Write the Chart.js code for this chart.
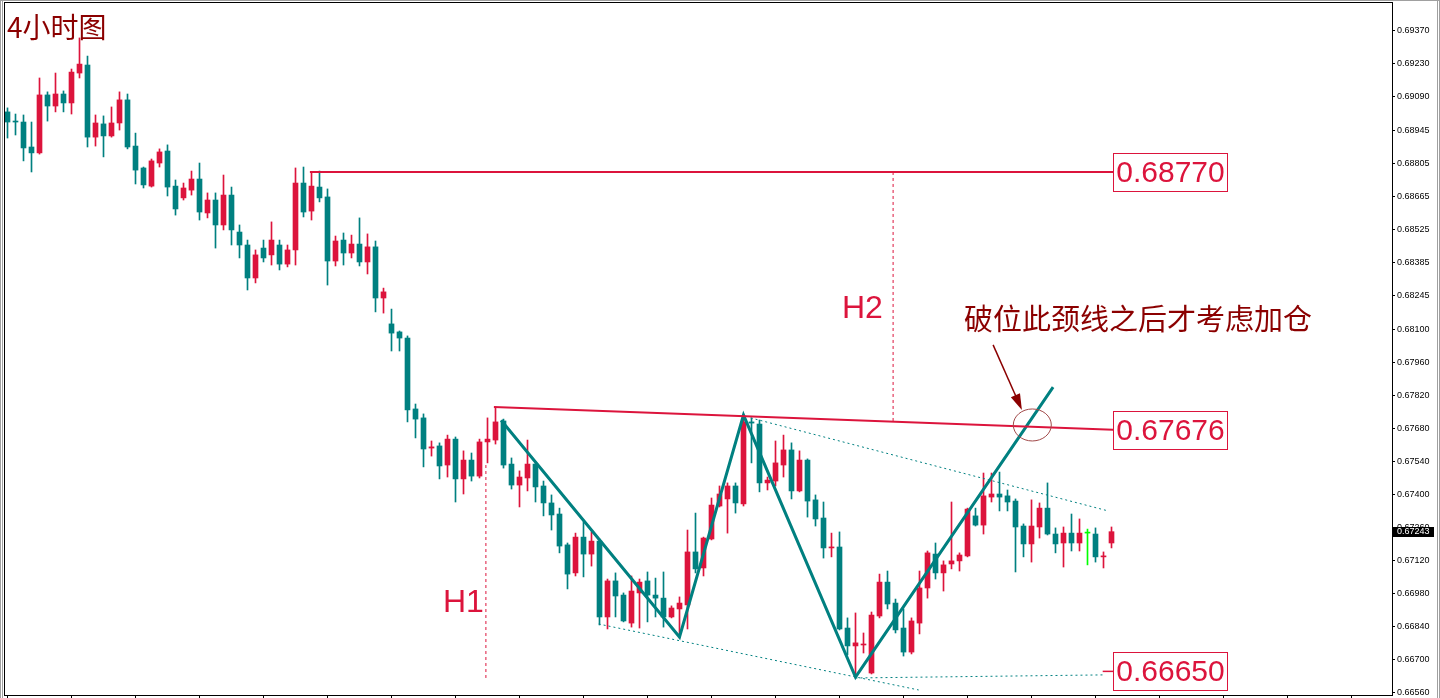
<!DOCTYPE html>
<html>
<head>
<meta charset="utf-8">
<script src="https://cdn.jsdelivr.net/npm/chart.js@4.4.1/dist/chart.umd.min.js"></script>
<style>
  html, body { margin: 0; padding: 0; background: #fff; overflow: hidden; }
</style>
</head>
<body>
<canvas id="c" width="1440" height="698"></canvas>
<script>
// 4H candles (oldest first)
const opens = [0.69025,0.68986,0.68982,0.68876,0.68851,0.69097,0.69050,0.69101,0.69063,0.69190,
0.69224,0.68918,0.68974,0.68923,0.68978,0.69076,0.68880,0.68787,0.68710,0.68808,
0.68859,0.68710,0.68660,0.68693,0.68740,0.68596,0.68651,0.68545,0.68672,0.68515,
0.68460,0.68320,0.68447,0.68418,0.68460,0.68379,0.68439,0.68723,0.68604,0.68706,
0.68664,0.68392,0.68481,0.68426,0.68464,0.68388,0.68452,0.68235,0.68125,0.68091,
0.68065,0.67764,0.67726,0.67598,0.67607,0.67526,0.67636,0.67467,0.67547,0.67479,
0.67624,0.67632,0.67713,0.67530,0.67441,0.67471,0.67530,0.67437,0.67365,0.67318,
0.67187,0.67068,0.67220,0.67148,0.67203,0.66881,0.67034,0.66974,0.66855,0.66983,
0.67034,0.66974,0.66961,0.66881,0.66915,0.66932,0.67157,0.67089,0.67212,0.67352,
0.67382,0.67437,0.67361,0.67709,0.67700,0.67450,0.67458,0.67526,0.67590,0.67416,
0.67547,0.67378,0.67301,0.67174,0.67178,0.66834,0.66758,0.66762,0.66643,0.66885,
0.67029,0.66940,0.66834,0.66732,0.66855,0.67004,0.67148,0.67068,0.67106,0.67119,
0.67140,0.67310,0.67271,0.67390,0.67403,0.67395,0.67373,0.67267,0.67191,0.67263,
0.67343,0.67233,0.67195,0.67237,0.67195,0.67237,0.67233,0.67136,0.67195];
const highs = [0.69042,0.69016,0.69012,0.68982,0.69169,0.69110,0.69190,0.69114,0.69207,0.69339,
0.69262,0.69012,0.69008,0.69046,0.69110,0.69101,0.68935,0.68791,0.68825,0.68868,
0.68885,0.68736,0.68723,0.68774,0.68808,0.68681,0.68681,0.68757,0.68706,0.68545,
0.68481,0.68439,0.68481,0.68558,0.68481,0.68460,0.68787,0.68791,0.68770,0.68774,
0.68698,0.68498,0.68511,0.68502,0.68575,0.68507,0.68477,0.68277,0.68188,0.68095,
0.68074,0.67785,0.67743,0.67628,0.67620,0.67653,0.67645,0.67586,0.67577,0.67636,
0.67726,0.67772,0.67721,0.67556,0.67501,0.67632,0.67539,0.67458,0.67399,0.67343,
0.67195,0.67237,0.67284,0.67242,0.67212,0.67042,0.67068,0.66983,0.67055,0.67042,
0.67072,0.67046,0.67072,0.66928,0.66966,0.67250,0.67322,0.67220,0.67386,0.67437,
0.67450,0.67450,0.67738,0.67726,0.67717,0.67475,0.67628,0.67653,0.67620,0.67586,
0.67552,0.67399,0.67369,0.67237,0.67242,0.66877,0.66898,0.66813,0.66902,0.67063,
0.67076,0.66957,0.66915,0.66877,0.67076,0.67161,0.67195,0.67119,0.67369,0.67153,
0.67343,0.67343,0.67492,0.67492,0.67496,0.67420,0.67382,0.67276,0.67378,0.67365,
0.67450,0.67259,0.67263,0.67318,0.67297,0.67254,0.67259,0.67157,0.67263];
const lows = [0.68914,0.68927,0.68817,0.68770,0.68846,0.68986,0.69025,0.69025,0.69016,0.69169,
0.68876,0.68880,0.68834,0.68918,0.68948,0.68868,0.68719,0.68702,0.68706,0.68791,
0.68668,0.68587,0.68651,0.68672,0.68566,0.68575,0.68447,0.68524,0.68460,0.68405,
0.68269,0.68299,0.68388,0.68375,0.68354,0.68367,0.68375,0.68579,0.68566,0.68643,
0.68290,0.68371,0.68375,0.68405,0.68371,0.68337,0.68176,0.68171,0.68010,0.68010,
0.67709,0.67641,0.67518,0.67564,0.67467,0.67475,0.67369,0.67403,0.67458,0.67471,
0.67535,0.67615,0.67513,0.67424,0.67348,0.67416,0.67369,0.67310,0.67250,0.67153,
0.67000,0.67055,0.67051,0.67097,0.66847,0.66830,0.66881,0.66860,0.66838,0.66834,
0.66860,0.66881,0.66838,0.66877,0.66792,0.66830,0.67068,0.67055,0.67208,0.67348,
0.67237,0.67322,0.67352,0.67535,0.67412,0.67420,0.67437,0.67475,0.67382,0.67412,
0.67305,0.67267,0.67131,0.67136,0.66826,0.66720,0.66626,0.66728,0.66639,0.66877,
0.66915,0.66813,0.66715,0.66724,0.66809,0.66961,0.67042,0.66991,0.67085,0.67076,
0.67136,0.67267,0.67233,0.67369,0.67331,0.67331,0.67072,0.67136,0.67114,0.67216,
0.67229,0.67153,0.67093,0.67161,0.67161,0.67102,0.67114,0.67089,0.67174];
const closes = [0.68982,0.68982,0.68872,0.68851,0.69097,0.69050,0.69101,0.69063,0.69194,0.69228,
0.68918,0.68978,0.68923,0.68978,0.69076,0.68876,0.68778,0.68715,0.68817,0.68855,
0.68706,0.68613,0.68702,0.68740,0.68600,0.68651,0.68545,0.68672,0.68524,0.68460,
0.68320,0.68418,0.68405,0.68481,0.68379,0.68439,0.68723,0.68600,0.68710,0.68660,
0.68392,0.68477,0.68426,0.68464,0.68388,0.68452,0.68235,0.68261,0.68086,0.68065,
0.67760,0.67721,0.67594,0.67603,0.67522,0.67636,0.67467,0.67547,0.67479,0.67624,
0.67636,0.67709,0.67526,0.67441,0.67475,0.67530,0.67433,0.67365,0.67314,0.67182,
0.67063,0.67220,0.67148,0.67203,0.66881,0.67034,0.66970,0.66864,0.66991,0.67029,
0.66974,0.66961,0.66881,0.66919,0.66940,0.67157,0.67085,0.67216,0.67356,0.67403,
0.67437,0.67365,0.67709,0.67704,0.67450,0.67462,0.67535,0.67590,0.67416,0.67547,
0.67373,0.67297,0.67174,0.67178,0.66830,0.66758,0.66771,0.66766,0.66889,0.67029,
0.66936,0.66826,0.66732,0.66864,0.67004,0.67153,0.67068,0.67102,0.67119,0.67144,
0.67339,0.67271,0.67395,0.67403,0.67390,0.67369,0.67263,0.67191,0.67267,0.67343,
0.67233,0.67191,0.67237,0.67195,0.67237,0.67237,0.67136,0.67140,0.67243];

// price axis labels as printed by the terminal
const priceTicks = [0.69370,0.69230,0.69090,0.68945,0.68805,0.68665,0.68525,0.68385,0.68245,0.68100,
0.67960,0.67820,0.67680,0.67540,0.67400,0.67260,0.67120,0.66980,0.66840,0.66700,0.66560];
const timeTicks = [0,8,16,24,32,40,48,56,64,72,80,88,96,104,112,120,128,136,144,152,160,168];
const lastPrice = 0.67243;

// drawn levels and pattern lines ([bar index, price])
const levelLabels = [0.68770, 0.67676, 0.66650];
const topLevel = [[37.8, 0.68770], [138.2, 0.68770]];
const neckline = [[60.8, 0.67772], [138.2, 0.67676]];
const lowLevel = [[136.9, 0.66650], [138.2, 0.66650]];
const zigzag = [[61.7, 0.67716], [84, 0.66796], [92, 0.67738], [106, 0.66626], [130.7, 0.67857]];
const upperChannel = [[92.9, 0.67726], [137.6, 0.67331]];
const lowerChannel = [[73.9, 0.66851], [113.9, 0.66571]];
const bottomDotted = [[106, 0.66622], [136.9, 0.66635]];
const h1Line = [[59.8, 0.67526], [59.8, 0.66622]];
const h2Line = [[110.7, 0.68770], [110.7, 0.67713]];
const circleAt = [128.1, 0.67696];
const arrowFrom = [123.2, 0.68036];
const arrowTo = [126.8, 0.67760];

const RED = '#dc143c', TEAL = '#008080', DOJI = '#00ff00', NOTE = '#8b0000';

const idx = closes.map((_, i) => i);
const colorOf = i => closes[i] > opens[i] ? RED : (closes[i] < opens[i] ? TEAL : DOJI);

function seg(points, color, width, dash) {
    return {
        type: 'line',
        data: points.map(p => ({ x: p[0], y: p[1] })),
        borderColor: color,
        borderWidth: width,
        borderDash: dash || [],
        pointRadius: 0,
        fill: false,
        tension: 0,
        order: 0,
    };
}

const annot = {
    id: 'annot',
    afterDatasetsDraw(chart) {
        const { ctx, scales: { x, y } } = chart;
        ctx.save();
        // level boxes
        ctx.font = '30px "Liberation Sans"';
        ctx.textAlign = 'center';
        ctx.textBaseline = 'middle';
        levelLabels.forEach(v => {
            const bx = Math.round(x.getPixelForValue(138.2)) + 0.5;
            const by = Math.round(y.getPixelForValue(v) - 19) + 0.5;
            ctx.fillStyle = '#fff';
            ctx.fillRect(bx, by, 114, 38);
            ctx.strokeStyle = RED;
            ctx.lineWidth = 1;
            ctx.strokeRect(bx, by, 114, 38);
            ctx.fillStyle = RED;
            ctx.fillText(v.toFixed(5), bx + 57, by + 20);
        });
        // H1 / H2
        ctx.textAlign = 'left';
        ctx.textBaseline = 'alphabetic';
        ctx.font = '32px "Liberation Sans"';
        ctx.fillStyle = RED;
        ctx.fillText('H2', 842, 318);
        ctx.fillText('H1', 443, 612);
        // notes
        ctx.fillStyle = NOTE;
        ctx.textBaseline = 'middle';
        ctx.font = '29px "Noto Sans CJK SC"';
        ctx.fillText('破位此颈线之后才考虑加仓', 964, 319);
        ctx.font = '28px "Noto Sans CJK SC"';
        ctx.fillText('4小时图', 7, 27);
        // circle and arrow
        const cx = x.getPixelForValue(circleAt[0]), cy = y.getPixelForValue(circleAt[1]);
        ctx.strokeStyle = '#a04848';
        ctx.lineWidth = 1;
        ctx.beginPath();
        ctx.ellipse(cx, cy, 19, 16, 0, 0, Math.PI * 2);
        ctx.stroke();
        const x0 = x.getPixelForValue(arrowFrom[0]), y0 = y.getPixelForValue(arrowFrom[1]);
        const x1 = x.getPixelForValue(arrowTo[0]), y1 = y.getPixelForValue(arrowTo[1]);
        const ang = Math.atan2(y1 - y0, x1 - x0);
        ctx.strokeStyle = NOTE;
        ctx.fillStyle = NOTE;
        ctx.lineWidth = 1.5;
        ctx.beginPath();
        ctx.moveTo(x0, y0);
        ctx.lineTo(x1 - 10 * Math.cos(ang), y1 - 10 * Math.sin(ang));
        ctx.stroke();
        ctx.beginPath();
        ctx.moveTo(x1, y1);
        ctx.lineTo(x1 - 16 * Math.cos(ang) + 5 * Math.sin(ang), y1 - 16 * Math.sin(ang) - 5 * Math.cos(ang));
        ctx.lineTo(x1 - 16 * Math.cos(ang) - 5 * Math.sin(ang), y1 - 16 * Math.sin(ang) + 5 * Math.cos(ang));
        ctx.closePath();
        ctx.fill();
        ctx.restore();
    },
    afterDraw(chart) {
        const { ctx, chartArea: a, scales: { y } } = chart;
        ctx.save();
        // frame
        ctx.strokeStyle = '#000';
        ctx.lineWidth = 1;
        ctx.strokeRect(a.left - 0.5, a.top - 0.5, a.right - a.left + 1, a.bottom - a.top + 1);
        ctx.fillStyle = '#a0a0a0';
        ctx.fillRect(0, 0, 1, 698);
        ctx.fillRect(2, 0, 1, 698);
        ctx.fillRect(1437, 0, 1, 698);
        ctx.fillRect(1439, 0, 1, 698);
        ctx.fillRect(0, 0, 1440, 1);
        // last price tag
        const py = Math.round(y.getPixelForValue(lastPrice));
        ctx.fillStyle = '#000';
        ctx.fillRect(a.right, py - 5, 42, 10);
        ctx.fillStyle = '#fff';
        ctx.font = '9px "Liberation Sans"';
        ctx.textBaseline = 'middle';
        ctx.textAlign = 'left';
        ctx.fillText(lastPrice.toFixed(5), a.right + 5, py);
        ctx.restore();
    }
};

new Chart(document.getElementById('c'), {
    type: 'bar',
    data: {
        datasets: [
            seg(topLevel, RED, 2),
            seg(neckline, RED, 2),
            seg(lowLevel, RED, 1.5),
            seg(zigzag, TEAL, 3),
            seg(upperChannel, TEAL, 1, [2, 3]),
            seg(lowerChannel, TEAL, 1, [2, 3]),
            seg(bottomDotted, TEAL, 1, [2, 3]),
            seg(h1Line, RED, 1, [3, 3]),
            seg(h2Line, RED, 1, [3, 3]),
            {
                label: 'body',
                data: idx.map(i => ({ x: i, y: [Math.min(opens[i], closes[i]), Math.max(opens[i], closes[i])] })),
                backgroundColor: idx.map(colorOf),
                barThickness: 5,
                minBarLength: 1,
                grouped: false,
                borderWidth: 0,
                order: 1,
            },
            {
                label: 'wick',
                data: idx.map(i => ({ x: i, y: [lows[i], highs[i]] })),
                backgroundColor: idx.map(colorOf),
                barThickness: 1,
                grouped: false,
                borderWidth: 0,
                order: 2,
            },
        ],
    },
    options: {
        responsive: false,
        animation: false,
        devicePixelRatio: 1,
        layout: { padding: { left: 5, top: 3, right: 0, bottom: 0 } },
        plugins: { legend: { display: false }, tooltip: { enabled: false } },
        scales: {
            x: {
                type: 'linear',
                min: -0.3125,
                max: 173.0625,
                offset: false,
                afterBuildTicks: s => { s.ticks = timeTicks.map(v => ({ value: v })); },
                afterFit: s => { s.height = 3; s.paddingLeft = 0; s.paddingRight = 0; },
                ticks: { display: false },
                grid: { offset: false, drawOnChartArea: false, color: '#000', tickLength: 3 },
                border: { display: false },
            },
            y: {
                position: 'right',
                min: 0.665497,
                max: 0.694873,
                afterBuildTicks: s => { s.ticks = priceTicks.map(v => ({ value: v })); },
                afterFit: s => { s.width = 48; s.paddingTop = 0; s.paddingBottom = 0; },
                ticks: {
                    color: '#000',
                    padding: 2,
                    font: { family: 'Liberation Sans', size: 9 },
                    callback: v => Number(v).toFixed(5),
                },
                grid: { drawOnChartArea: false, color: '#000', tickLength: 3 },
                border: { display: false },
            },
        },
    },
    plugins: [annot],
});
</script>
</body>
</html>
